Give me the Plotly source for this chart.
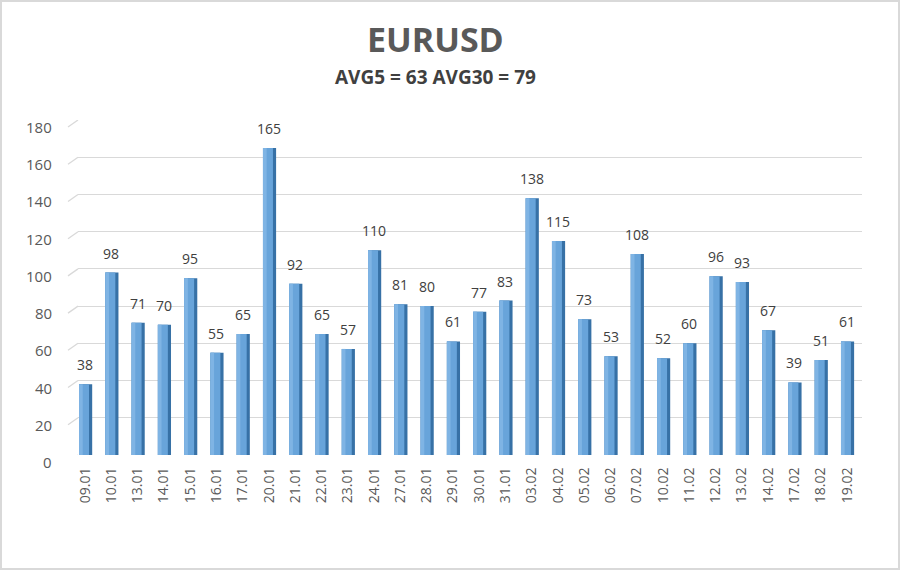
"""
EURUSD daily volatility chart (Excel-style 3D column look).
"""
import plotly.graph_objects as go

# chart data
dates = [
    "09.01", "10.01", "13.01", "14.01", "15.01", "16.01", "17.01", "20.01",
    "21.01", "22.01", "23.01", "24.01", "27.01", "28.01", "29.01", "30.01",
    "31.01", "03.02", "04.02", "05.02", "06.02", "07.02", "10.02", "11.02",
    "12.02", "13.02", "14.02", "17.02", "18.02", "19.02",
]
values = [
    38, 98, 71, 70, 95, 55, 65, 165, 92, 65, 57, 110, 81, 80, 61, 77,
    83, 138, 115, 73, 53, 108, 52, 60, 96, 93, 67, 39, 51, 61,
]
y_ticks = [0, 20, 40, 60, 80, 100, 120, 140, 160, 180]
title_text = "EURUSD"
subtitle_text = "AVG5 = 63 AVG30 = 79"

# layout geometry
W, H = 900, 570
ML, MR, MT, MB = 78, 38, 120, 115
PW = W - ML - MR
PH = H - MT - MB
FONT = "Open Sans"

fig = go.Figure()

# column layers: dark side, front face, lighter left edge of the face
for width, color in [(0.5, "#3771A6"), (0.38, "#68A4DA"), (0.14, "#7FB4E4")]:
    fig.add_trace(go.Bar(
        x=dates, y=values, width=width, offset=-0.23,
        marker=dict(color=color, line=dict(width=0)),
        hoverinfo="skip", showlegend=False,
    ))

# value labels (category index as x, so "09.01" is not read as a number)
for i, v in enumerate(values):
    fig.add_annotation(
        x=i, y=v, text=str(v), showarrow=False, yanchor="bottom",
        yshift=8, font=dict(family=FONT, size=14, color="#404040"),
    )

# slanted gridline starts (perspective look) and y labels at their foot
slant_dx = 10 / PW
slant_dy = 7 * 180 / PH
for t in y_ticks:
    fig.add_shape(
        type="line", xref="paper", yref="y",
        x0=-slant_dx, y0=t - slant_dy, x1=0, y1=t,
        line=dict(color="#D9D9D9", width=1.3),
    )
    fig.add_annotation(
        x=-(ML - 54) / PW, xref="paper", y=t, yref="y",
        text=str(t), showarrow=False, xanchor="right", yanchor="middle",
        yshift=-7, font=dict(family=FONT, size=15, color="#595959"),
    )

# outer frame
fig.add_shape(
    type="rect", xref="paper", yref="paper",
    x0=-(ML - 1) / PW, x1=1 + (MR - 1) / PW,
    y0=-(MB - 1) / PH, y1=1 + (MT - 1) / PH,
    line=dict(color="#D9D9D9", width=2),
)

# titles
fig.add_annotation(
    text=f"<b>{title_text}</b>", xref="paper", yref="paper",
    x=(435 - ML) / PW, y=1 + (MT - 39) / PH, showarrow=False,
    xanchor="center", yanchor="middle",
    font=dict(family=FONT, size=34, color="#595959"),
)
fig.add_annotation(
    text=f"<b>{subtitle_text}</b>", xref="paper", yref="paper",
    x=(435 - ML) / PW, y=1 + (MT - 77) / PH, showarrow=False,
    xanchor="center", yanchor="middle",
    font=dict(family=FONT, size=19, color="#404040"),
)

fig.update_layout(
    width=W, height=H,
    margin=dict(l=ML, r=MR, t=MT, b=MB),
    barmode="overlay",
    paper_bgcolor="white", plot_bgcolor="white",
    font=dict(family=FONT, color="#595959"),
    xaxis=dict(
        type="category", range=[-0.27, 29.57],
        tickangle=-90, tickfont=dict(size=14, color="#595959"),
        showgrid=False, zeroline=False, showline=False,
        ticks="outside", ticklen=6, tickcolor="white",
    ),
    yaxis=dict(
        range=[0, 180], tickvals=y_ticks, showticklabels=False,
        gridcolor="#D9D9D9", gridwidth=1.3,
        zeroline=False, showline=False,
    ),
)

# drop the default page margin so the figure sits at the window corner
fig.write_html(
    "out.html",
    config={"displayModeBar": False},
    post_script="document.body.style.margin='0';",
)
